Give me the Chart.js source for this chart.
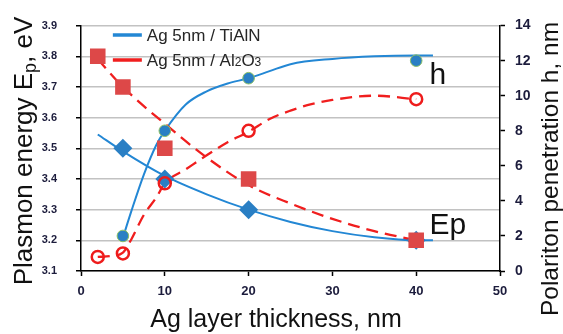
<!DOCTYPE html>
<html lang="en">
<head>
  <meta charset="UTF-8" />
  <title>Plasmon energy vs Ag layer thickness</title>
  <script src="https://cdn.jsdelivr.net/npm/chart.js"></script>
  <style>
    html, body { margin: 0; padding: 0; background: #fff; }
    .chart-box { position: relative; width: 563px; height: 334px; }
  </style>
</head>
<body>
<div class="chart-box">
  <canvas id="plasmonChart" width="563" height="334"></canvas>
</div>

<script>
  // measured points
  const thickTi = [5, 10, 20, 40];
  const epTiAlN = [3.5, 3.4, 3.3, 3.2];
  const hTiAlN = [2, 8, 11, 12];

  const thickAl = [2, 5, 10, 20, 40];
  const epAl2O3 = [3.8, 3.7, 3.5, 3.4, 3.2];
  const hAl2O3 = [0.8, 1.0, 5.0, 8.0, 9.8];

  // fitted curves
  const fitEpTiX = [2, 5, 10, 15, 20, 25, 30, 35, 40, 42];
  const fitEpTiY = [3.545, 3.49, 3.41, 3.35, 3.30, 3.26, 3.23, 3.21, 3.20, 3.20];
  const fitEpAlX = [2, 5, 10, 15, 20, 25, 30, 35, 40];
  const fitEpAlY = [3.79, 3.70, 3.58, 3.47, 3.38, 3.32, 3.27, 3.23, 3.20];
  const fitHTiX = [5, 6, 7.5, 9, 10, 12.5, 15, 17.5, 20, 22.5, 25, 30, 35, 40, 42];
  const fitHTiY = [1.9, 3.4, 5.5, 7.2, 8.0, 9.5, 10.25, 10.7, 11.0, 11.4, 11.8, 12.1, 12.25, 12.3, 12.3];
  const fitHAlX = [2, 3.5, 5, 6, 7.5, 9, 10, 12.5, 15, 17.5, 20, 22.5, 25, 27.5, 30, 35, 40];
  const fitHAlY = [0.8, 0.85, 1.05, 1.8, 3.2, 4.2, 5.0, 5.8, 6.6, 7.35, 7.95, 8.67, 9.15, 9.52, 9.76, 10.0, 9.8];

  const xTicks = { min: 0, max: 50, step: 10 };
  const epTicks = { min: 3.1, max: 3.9, step: 0.1 };
  const hTicks = { min: 0, max: 14, step: 2 };

  const pts = (xs, ys) => xs.map((v, i) => ({ x: v, y: ys[i] }));

  const BLUE = '#2a7fc4';
  const BLUE_LINE = '#2387d4';
  const RED = '#dd4848';
  const RED_LINE = '#f01e1e';
  const TICK_COLOR = '#1c1c3c';
  const FONT = "'Liberation Sans', Arial, sans-serif";

  const fitLine = (data, axis, color, dash, order) => ({
    data, yAxisID: axis, showLine: true, pointRadius: 0, borderColor: color,
    borderWidth: dash.length ? 2.3 : 2, borderDash: dash, cubicInterpolationMode: 'monotone', order
  });

  // text: legend, axis titles with subscripts, curve labels
  function drawRuns(ctx, runs, x, y, center) {
    let total = 0;
    runs.forEach(r => { ctx.font = r.size + 'px ' + FONT; r.w = ctx.measureText(r.t).width; total += r.w; });
    let cx = center ? x - total / 2 : x;
    runs.forEach(r => {
      ctx.font = r.size + 'px ' + FONT;
      ctx.fillText(r.t, cx, y + (r.dy || 0));
      cx += r.w;
    });
  }

  const textPlugin = {
    id: 'figureText',
    afterDraw(chart) {
      const { ctx, scales } = chart;
      const x = scales.x, y = scales.y;
      ctx.save();
      ctx.textBaseline = 'alphabetic';

      // legend
      const lx = x.getPixelForValue(3.8), lw = 29;
      [[BLUE_LINE, 35, [{ t: 'Ag 5nm / TiAlN', size: 17 }]],
       [RED_LINE, 60, [{ t: 'Ag 5nm / Al', size: 17 }, { t: '2', size: 12 }, { t: 'O', size: 17 }, { t: '3', size: 12 }]]]
        .forEach(([c, ly, runs]) => {
          ctx.strokeStyle = c; ctx.lineWidth = 3.5;
          ctx.beginPath(); ctx.moveTo(lx, ly); ctx.lineTo(lx + lw, ly); ctx.stroke();
          ctx.fillStyle = '#262626';
          drawRuns(ctx, runs, lx + lw + 5, ly + 6, false);
        });

      ctx.fillStyle = '#111';
      // curve labels
      ctx.font = '30px ' + FONT;
      ctx.fillText('h', x.getPixelForValue(41.6), y.getPixelForValue(3.71));
      ctx.fillText('Ep', x.getPixelForValue(41.6), y.getPixelForValue(3.22));

      // x title
      drawRuns(ctx, [{ t: 'Ag layer thickness, nm', size: 25 }], 276, 327, true);

      // left title
      ctx.save();
      ctx.translate(31.5, 151);
      ctx.rotate(-Math.PI / 2);
      drawRuns(ctx, [{ t: 'Plasmon energy E', size: 26 }, { t: 'p', size: 18, dy: 4 }, { t: ', eV', size: 26 }], 0, 0, true);
      ctx.restore();

      // right title
      ctx.save();
      ctx.translate(558, 169);
      ctx.rotate(-Math.PI / 2);
      drawRuns(ctx, [{ t: 'Polariton penetration h, nm', size: 24.5 }], 0, 0, true);
      ctx.restore();

      ctx.restore();
    }
  };

  new Chart(document.getElementById('plasmonChart'), {
    type: 'scatter',
    data: {
      datasets: [
        fitLine(pts(fitEpTiX, fitEpTiY), 'y', BLUE_LINE, [], 5),
        fitLine(pts(fitHTiX, fitHTiY), 'y2', BLUE_LINE, [], 5),
        fitLine(pts(fitEpAlX, fitEpAlY), 'y', RED_LINE, [12, 7], 4),
        fitLine(pts(fitHAlX, fitHAlY), 'y2', RED_LINE, [12, 7], 4),
        { data: pts(thickTi, epTiAlN), yAxisID: 'y', pointStyle: 'rectRot', pointRadius: 9.5,
          backgroundColor: BLUE, borderWidth: 0, order: 3 },
        { data: pts(thickTi, hTiAlN), yAxisID: 'y2', pointStyle: 'circle', pointRadius: 5.8,
          backgroundColor: BLUE, borderColor: '#8cc063', borderWidth: 1, order: 2 },
        { data: pts(thickAl, epAl2O3), yAxisID: 'y', pointStyle: 'rect', pointRadius: 11,
          backgroundColor: RED, borderWidth: 0, order: 1 },
        { data: pts(thickAl, hAl2O3), yAxisID: 'y2', pointStyle: 'circle', pointRadius: 6,
          backgroundColor: 'rgba(0,0,0,0)', borderColor: '#ee1c1c', borderWidth: 2.5, order: 0 }
      ]
    },
    options: {
      responsive: false,
      animation: false,
      layout: { padding: { top: 25, left: 0, right: 0, bottom: 0 } },
      plugins: { legend: { display: false }, tooltip: { enabled: false } },
      scales: {
        x: {
          type: 'linear', min: xTicks.min, max: xTicks.max,
          ticks: { stepSize: xTicks.step, color: TICK_COLOR, font: { family: FONT, size: 13, weight: 'bold' }, padding: 8 },
          grid: { drawOnChartArea: false, tickLength: 5, tickColor: '#000', tickWidth: 1.5 },
          border: { color: '#000', width: 1.5 },
          afterFit: s => { s.height = 63; }
        },
        y: {
          position: 'left', min: epTicks.min, max: epTicks.max,
          ticks: { stepSize: epTicks.step, color: TICK_COLOR, font: { family: FONT, size: 11, weight: 'bold' }, padding: 19,
                   callback: v => v.toFixed(1) },
          grid: { color: '#c2c2c2', lineWidth: 1.5, tickLength: 5, tickColor: '#000', tickWidth: 1.5 },
          border: { color: '#000', width: 1.5 },
          afterFit: s => { s.width = 81; }
        },
        y2: {
          position: 'right', min: hTicks.min, max: hTicks.max,
          ticks: { stepSize: hTicks.step, color: TICK_COLOR, font: { family: FONT, size: 14, weight: 'bold' }, padding: 10 },
          grid: { drawOnChartArea: false, tickLength: 5, tickColor: '#000', tickWidth: 1.5 },
          border: { color: '#000', width: 1.5 },
          afterFit: s => { s.width = 63; }
        }
      }
    },
    plugins: [textPlugin]
  });
</script>
</body>
</html>
